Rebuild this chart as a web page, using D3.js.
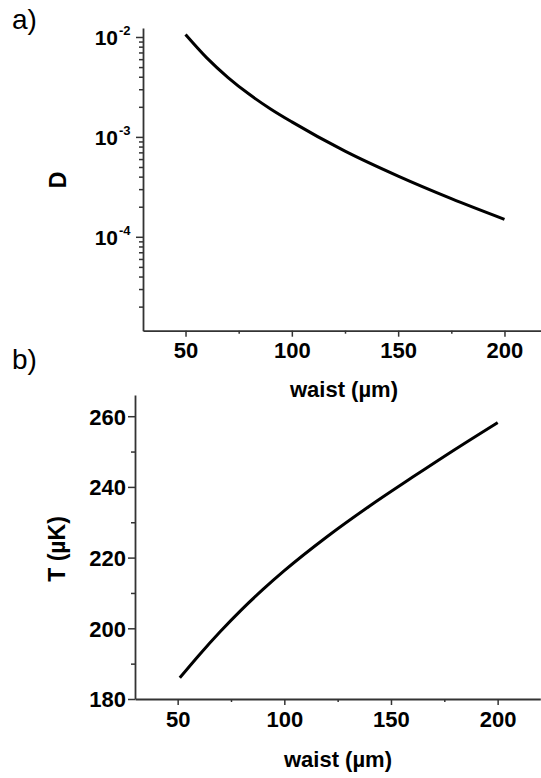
<!DOCTYPE html>
<html><head><meta charset="utf-8">
<script src="https://cdn.jsdelivr.net/npm/d3@7"></script>
<style>
body{margin:0;background:#fff;}
svg text{font-family:"Liberation Sans",Arial,sans-serif;fill:#000;}
</style></head>
<body><svg id="c" width="541" height="778"></svg>
<script>
// Panel a data
const waistA = [50, 60, 70, 80, 90, 100, 125, 150, 175, 200];
const dValues = [0.01059, 0.00618, 0.003926, 0.002667, 0.001905, 0.001413, 0.000720, 0.000405, 0.000241, 0.0001496];
const dMajorTicks = [1e-4, 1e-3, 1e-2];
const dExponents = ["-4", "-3", "-2"];
// Panel b data
const waistB = [51, 60, 70, 80, 90, 100, 120, 140, 160, 180, 200];
const tValues = [186.0, 192.4, 199.1, 205.3, 211.0, 216.3, 225.9, 234.6, 242.7, 250.6, 258.2];
const tMajorTicks = [180, 200, 220, 240, 260];
const tMinorTicks = [190, 210, 230, 250];
const xMajorTicks = [50, 100, 150, 200];
const xMinorTicks = [75, 125, 175];

const svg = d3.select("#c");
const axisColor = "#333";
const FS = 22;

function styleAxis(g){
  g.select(".domain").attr("stroke", axisColor).attr("stroke-width", 1.8);
  g.selectAll(".tick line").attr("stroke", axisColor).attr("stroke-width", 1.5);
}
function styleTickText(sel){
  sel.attr("font-size", FS).attr("font-weight", "bold")
    .attr("font-family", "Liberation Sans, Arial, sans-serif").attr("fill", "#000");
}

// ---------- Panel a ----------
const xA = d3.scaleLinear().domain([30, 220]).range([143, 547]);
const yA = d3.scaleLog().domain([Math.pow(10, -4.94), Math.pow(10, -1.91)]).range([330.7, 28]);

const minorsA = [];
for (let e = -5; e <= -2; e++) for (let m = 2; m <= 9; m++) {
  const v = m * Math.pow(10, e);
  if (v >= yA.domain()[0] && v <= yA.domain()[1]) minorsA.push(v);
}
const gA = svg.append("g");
gA.append("g").attr("transform", "translate(143,0)")
  .call(d3.axisLeft(yA).tickValues(minorsA).tickSize(4).tickFormat("").tickSizeOuter(0)).call(styleAxis);
const yMajA = gA.append("g").attr("transform", "translate(143,0)")
  .call(d3.axisLeft(yA).tickValues(dMajorTicks).tickSize(7).tickFormat("").tickSizeOuter(0)).call(styleAxis);
yMajA.select(".domain").remove();
dMajorTicks.forEach((v, i) => {
  gA.append("text").attr("x", 118).attr("y", yA(v) + 8)
    .attr("text-anchor", "end").attr("font-weight", "bold").attr("font-size", 21).text("10");
  gA.append("text").attr("x", 119).attr("y", yA(v) - 2)
    .attr("text-anchor", "start").attr("font-weight", "bold").attr("font-size", 13).text(dExponents[i]);
});

gA.append("g").attr("transform", "translate(0,330.7)")
  .call(d3.axisBottom(xA).tickValues(xMinorTicks).tickSize(3).tickFormat("").tickSizeOuter(0)).call(styleAxis);
const xMajA = gA.append("g").attr("transform", "translate(0,330.7)")
  .call(d3.axisBottom(xA).tickValues(xMajorTicks).tickSize(6).tickFormat(d3.format("d")).tickSizeOuter(0)).call(styleAxis);
xMajA.select(".domain").remove();
xMajA.selectAll(".tick text").attr("y", 12).attr("dy", "0.71em").call(styleTickText);

gA.append("path").datum(waistA.map((w, i) => [w, dValues[i]]))
  .attr("fill", "none").attr("stroke", "#000").attr("stroke-width", 3)
  .attr("d", d3.line().x(d => xA(d[0])).y(d => yA(d[1])).curve(d3.curveMonotoneX));

gA.append("text").attr("x", 344).attr("y", 397).attr("text-anchor", "middle")
  .attr("font-weight", "bold").attr("font-size", FS).text("waist (µm)");
gA.append("text").attr("transform", "translate(66,180) rotate(-90)").attr("text-anchor", "middle")
  .attr("font-weight", "bold").attr("font-size", 23).text("D");
gA.append("text").attr("x", 12).attr("y", 29).attr("font-size", 28).text("a)");

// ---------- Panel b ----------
const xB = d3.scaleLinear().domain([30, 220]).range([135, 540.3]);
const yB = d3.scaleLinear().domain([180, 266]).range([699, 395]);
const gB = svg.append("g");
gB.append("g").attr("transform", "translate(135,0)")
  .call(d3.axisLeft(yB).tickValues(tMinorTicks).tickSize(4).tickFormat("").tickSizeOuter(0)).call(styleAxis);
const yMajB = gB.append("g").attr("transform", "translate(135,0)")
  .call(d3.axisLeft(yB).tickValues(tMajorTicks).tickSize(7).tickFormat(d3.format("d")).tickSizeOuter(0)).call(styleAxis);
yMajB.select(".domain").remove();
yMajB.selectAll(".tick text").attr("x", -9).attr("dy", "0.36em").call(styleTickText);

gB.append("g").attr("transform", "translate(0,699)")
  .call(d3.axisBottom(xB).tickValues(xMinorTicks).tickSize(3).tickFormat("").tickSizeOuter(0)).call(styleAxis);
const xMajB = gB.append("g").attr("transform", "translate(0,699)")
  .call(d3.axisBottom(xB).tickValues(xMajorTicks).tickSize(6).tickFormat(d3.format("d")).tickSizeOuter(0)).call(styleAxis);
xMajB.select(".domain").remove();
xMajB.selectAll(".tick text").attr("y", 12).attr("dy", "0.71em").call(styleTickText);

gB.append("path").datum(waistB.map((w, i) => [w, tValues[i]]))
  .attr("fill", "none").attr("stroke", "#000").attr("stroke-width", 3)
  .attr("d", d3.line().x(d => xB(d[0])).y(d => yB(d[1])).curve(d3.curveMonotoneX));

gB.append("text").attr("x", 338).attr("y", 767).attr("text-anchor", "middle")
  .attr("font-weight", "bold").attr("font-size", FS).text("waist (µm)");
gB.append("text").attr("transform", "translate(65,549) rotate(-90)").attr("text-anchor", "middle")
  .attr("font-weight", "bold").attr("font-size", 23).text("T (µK)");
gB.append("text").attr("x", 12).attr("y", 369).attr("font-size", 28).text("b)");
</script></body></html>
